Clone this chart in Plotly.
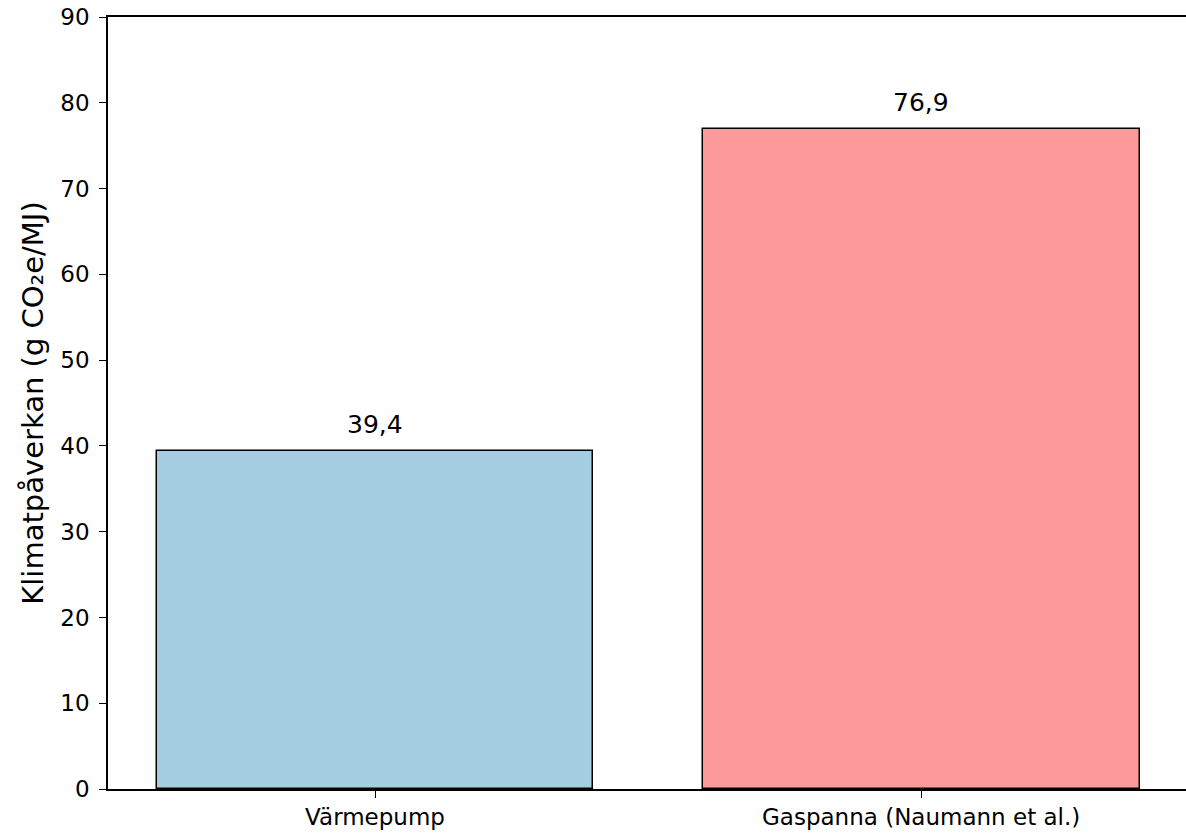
import plotly.graph_objects as go

categories = ["Värmepump", "Gaspanna (Naumann et al.)"]
values = [39.4, 76.9]
value_labels = ["39,4", "76,9"]
bar_colors = ["#a6cee3", "#fb9a99"]
y_ticks = [0, 10, 20, 30, 40, 50, 60, 70, 80, 90]
y_title = "Klimatpåverkan (g CO₂e/MJ)"

FONT = "DejaVu Sans"

x_pos = list(range(len(categories)))

fig = go.Figure()
fig.add_trace(go.Bar(
    x=x_pos,
    y=values,
    width=0.8,
    marker=dict(color=bar_colors, line=dict(color="black", width=1.5)),
    hoverinfo="skip",
))

for xi, v, lab in zip(x_pos, values, value_labels):
    fig.add_annotation(
        x=xi, y=v, text=lab, showarrow=False,
        yanchor="bottom", xanchor="center", yshift=10,
        font=dict(family=FONT, size=25, color="black"),
    )

fig.update_layout(
    width=1186, height=836,
    margin=dict(l=108, r=0, t=17, b=47),
    paper_bgcolor="white", plot_bgcolor="white",
    showlegend=False,
    font=dict(family=FONT, color="black"),
    bargap=0,
)

fig.update_xaxes(
    range=[-0.489, 1.485],
    tickmode="array", tickvals=x_pos, ticktext=categories,
    showline=True, linecolor="black", linewidth=1.5, mirror=True,
    ticks="outside", ticklen=7, tickwidth=1.2, tickcolor="black",
    tickfont=dict(family=FONT, size=23, color="black"),
    showgrid=False, zeroline=False,
)
fig.update_yaxes(
    range=[0, 90],
    tickmode="array", tickvals=y_ticks,
    ticktext=[str(t) for t in y_ticks],
    showline=True, linecolor="black", linewidth=1.5,
    ticks="outside", ticklen=7, tickwidth=1.2, tickcolor="black",
    tickfont=dict(family=FONT, size=23, color="black"),
    ticklabelstandoff=5,
    showgrid=False, zeroline=False,
    title=dict(text=y_title, font=dict(family=FONT, size=29, color="black"), standoff=8),
)

fig.write_html(
    "out.html",
    config={"displayModeBar": False},
    post_script="document.body.style.margin='0';document.body.style.overflow='hidden';",
)
